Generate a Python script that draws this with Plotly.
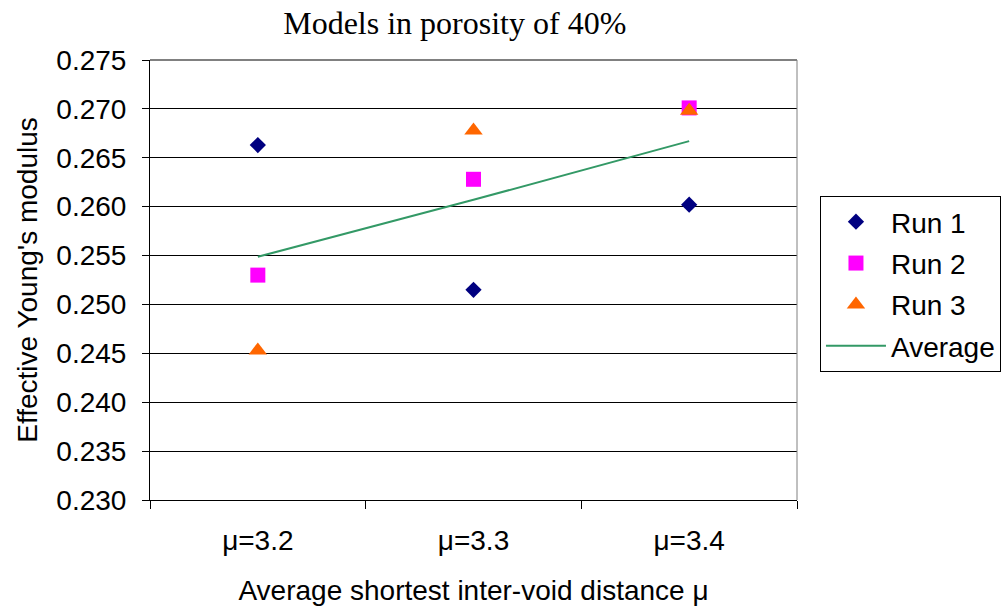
import plotly.graph_objects as go

categories = ["μ=3.2", "μ=3.3", "μ=3.4"]
run1 = [0.2663, 0.2515, 0.2602]
run2 = [0.2530, 0.2628, 0.2701]
run3 = [0.2453, 0.2678, 0.2698]
average = [round((a + b + c) / 3, 5) for a, b, c in zip(run1, run2, run3)]
y_ticks = [0.230, 0.235, 0.240, 0.245, 0.250, 0.255, 0.260, 0.265, 0.270, 0.275]

fig = go.Figure()
fig.add_trace(go.Scatter(x=categories, y=run1, mode="markers", name="Run 1", legendgroup="g1",
                         marker=dict(symbol="diamond", size=12.5, color="#000080")))
fig.add_trace(go.Scatter(x=categories, y=run2, mode="markers", name="Run 2", legendgroup="g2",
                         marker=dict(symbol="square", size=15, color="#FF00FF")))
fig.add_trace(go.Scatter(x=categories, y=run3, mode="markers", name="Run 3", legendgroup="g3",
                         marker=dict(symbol="triangle-up", size=16, color="#FF6600")))
fig.add_trace(go.Scatter(x=categories, y=average, mode="lines", name="Average", legendgroup="g4",
                         line=dict(color="#339966", width=2)))

font_main = "Arial, Liberation Sans, sans-serif"

fig.update_layout(
    width=1005, height=609,
    margin=dict(l=150, r=208, t=60, b=109, autoexpand=False),
    paper_bgcolor="white", plot_bgcolor="white",
    font=dict(family=font_main, size=28, color="black"),
    title=dict(text="Models in porosity of 40%", x=0.4525, xanchor="center",
               y=0.962, yanchor="middle",
               font=dict(family="Liberation Serif, Times New Roman, serif", size=32, color="black")),
    showlegend=True,
    legend=dict(x=1.0355, y=0.691, xanchor="left", yanchor="top",
                bordercolor="black", borderwidth=1, bgcolor="white",
                font=dict(size=28), itemwidth=60, tracegroupgap=2),
    xaxis=dict(type="category", range=[-0.5, 2.5], tickson="boundaries",
               ticks="outside", ticklen=8, tickcolor="black",
               showline=True, linecolor="black", linewidth=1,
               showgrid=False, zeroline=False, automargin=False,
               tickfont=dict(size=28), ticklabelstandoff=15,
               title=dict(text="Average shortest inter-void distance μ", font=dict(size=28), standoff=25)),
    yaxis=dict(range=[0.230, 0.275], tickvals=y_ticks,
               ticktext=[f"{v:.3f}" for v in y_ticks],
               ticks="outside", ticklen=7, tickcolor="black",
               showline=True, linecolor="black", linewidth=1,
               showgrid=True, gridcolor="black", gridwidth=1,
               zeroline=False, automargin=False, tickfont=dict(size=28),
               ticklabelstandoff=10,
               title=dict(text="Effective Young's modulus", font=dict(size=28), standoff=10)),
    shapes=[
        dict(type="line", xref="paper", yref="paper", x0=0, x1=1, y0=1, y1=1,
             line=dict(color="#808080", width=2)),
        dict(type="line", xref="paper", yref="paper", x0=1, x1=1, y0=0, y1=1,
             line=dict(color="#808080", width=1)),
    ],
)

fig.write_html("out.html")
